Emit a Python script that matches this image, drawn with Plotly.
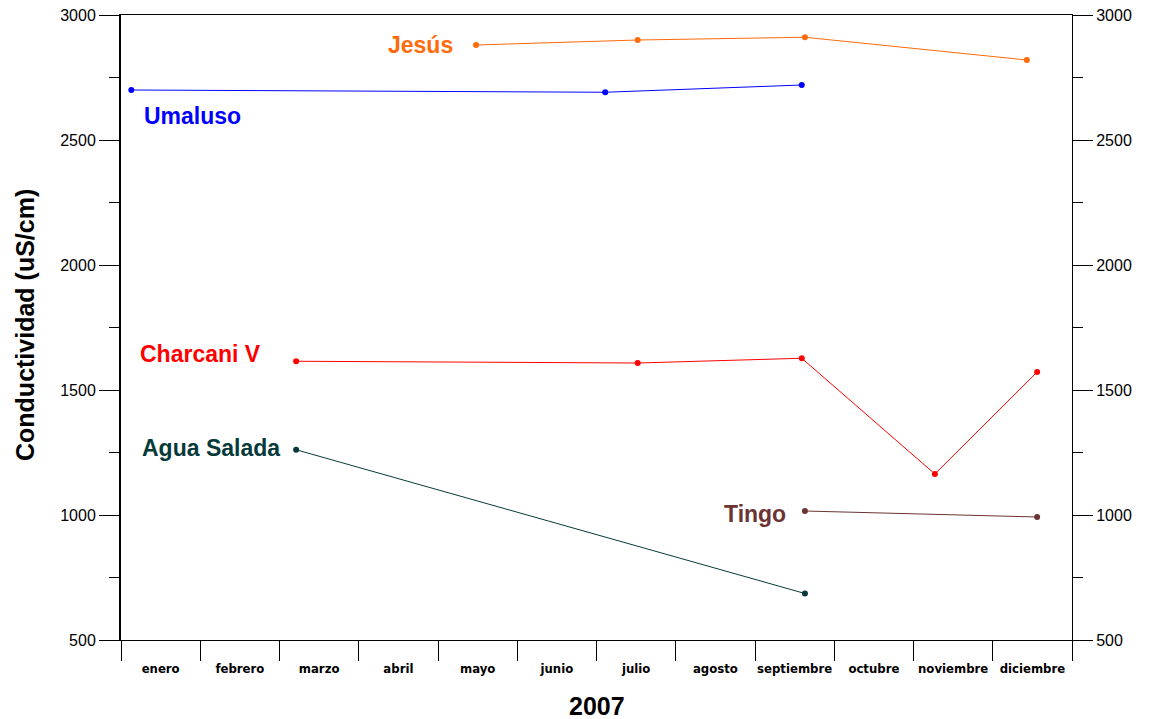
import plotly.graph_objects as go

# Monthly conductivity samples, 2007. x is a fractional month index (0 = start of enero).
meses = ["enero", "febrero", "marzo", "abril", "mayo", "junio", "julio",
         "agosto", "septiembre", "octubre", "noviembre", "diciembre"]

umaluso_x = [0.13, 6.11, 8.59]
umaluso_y = [2700, 2691, 2720]

jesus_x = [4.48, 6.52, 8.63, 11.43]
jesus_y = [2880, 2900, 2911, 2820]

charcani_x = [2.21, 6.52, 8.59, 10.27, 11.56]
charcani_y = [1615, 1608, 1627, 1164, 1572]

agua_x = [2.21, 8.63]
agua_y = [1261, 686]

tingo_x = [8.63, 11.56]
tingo_y = [1016, 992]

series = [
    ("Umaluso", umaluso_x, umaluso_y, "#0000FF"),
    ("Jesús", jesus_x, jesus_y, "#FF6A0A"),
    ("Charcani V", charcani_x, charcani_y, "#FF0000"),
    ("Agua Salada", agua_x, agua_y, "#063A3A"),
    ("Tingo", tingo_x, tingo_y, "#6B3333"),
]

fig = go.Figure()
for name, xs, ys, col in series:
    fig.add_trace(go.Scatter(
        x=xs, y=ys, mode="lines+markers", name=name,
        line=dict(color=col, width=1),
        marker=dict(color=col, size=6),
        showlegend=False, hoverinfo="skip",
    ))

# invisible helper trace so the secondary axes (month names / right scale) render
fig.add_trace(go.Scatter(x=[0, 12], y=[500, 3000], xaxis="x2", yaxis="y2",
                         mode="markers", marker=dict(opacity=0),
                         showlegend=False, hoverinfo="skip"))

# series labels
labels = [
    ("Umaluso", 0.27, 2596, "left", "#0000FF"),
    ("Jesús", 4.22, 2880, "right", "#FF6A0A"),
    ("Charcani V", 0.215, 1643, "left", "#FF0000"),
    ("Agua Salada", 0.24, 1267, "left", "#063A3A"),
    ("Tingo", 8.42, 1006, "right", "#6B3333"),
]
annotations = []
for txt, ax, ay, anc, col in labels:
    annotations.append(dict(x=ax, y=ay, xref="x", yref="y", text=txt,
                            showarrow=False, xanchor=anc, yanchor="middle",
                            font=dict(family="Liberation Sans, Arial", size=23,
                                      color=col, weight="bold")))

PLOT_W = 1149 - 121 - 77
PLOT_H = 719 - 15 - 79

annotations.append(dict(x=0.5, y=-(706 - 640) / PLOT_H, xref="paper", yref="paper",
                        text="2007", showarrow=False, xanchor="center",
                        yanchor="middle",
                        font=dict(family="Liberation Sans, Arial", size=25,
                                  color="black", weight="bold")))
annotations.append(dict(x=(25 - 121) / PLOT_W, y=(640 - 325) / PLOT_H,
                        xref="paper", yref="paper",
                        text="Conductividad (uS/cm)", textangle=-90,
                        showarrow=False, xanchor="center", yanchor="middle",
                        font=dict(family="Liberation Sans, Arial", size=25,
                                  color="black", weight="bold")))

tickfont = dict(family="Liberation Sans, Arial", size=16, color="black")

fig.update_layout(
    width=1149, height=719,
    margin=dict(l=121, r=77, t=15, b=79, autoexpand=False),
    paper_bgcolor="white", plot_bgcolor="white",
    annotations=annotations,
    xaxis=dict(range=[0, 12], tickmode="array", tickvals=list(range(13)),
               ticktext=[""] * 13, ticks="outside", ticklen=20, tickwidth=1,
               tickcolor="black", showgrid=False, zeroline=False,
               automargin=False,
               showline=True, linecolor="black", linewidth=1, mirror=True),
    xaxis2=dict(range=[0, 12], overlaying="x", side="bottom", anchor="y",
                tickmode="array", tickvals=[i + 0.5 for i in range(12)],
                ticktext=meses, ticks="outside", ticklen=16, tickangle=0,
                tickcolor="rgba(0,0,0,0)", showgrid=False, zeroline=False,
                showline=False, automargin=False,
                tickfont=dict(family="Liberation Sans Narrow, DejaVu Sans Condensed, Arial",
                              size=13, color="black", weight="bold")),
    yaxis=dict(range=[500, 3000], tickmode="linear", tick0=500, dtick=500,
               ticks="outside", ticklen=20, tickwidth=1, tickcolor="black",
               minor=dict(dtick=250, tick0=500, ticks="outside", ticklen=10,
                          tickcolor="black", showgrid=False),
               showgrid=False, zeroline=False, showline=True, automargin=False,
               linecolor="black", linewidth=2, tickfont=tickfont),
    yaxis2=dict(range=[500, 3000], overlaying="y", side="right", anchor="x",
                tickmode="linear", tick0=500, dtick=500,
                ticks="outside", ticklen=20, tickwidth=1, tickcolor="black",
                minor=dict(dtick=250, tick0=500, ticks="outside", ticklen=10,
                           tickcolor="black", showgrid=False),
                showgrid=False, zeroline=False, showline=True, automargin=False,
                linecolor="black", linewidth=1, tickfont=tickfont),
)

fig.write_html("out.html")
